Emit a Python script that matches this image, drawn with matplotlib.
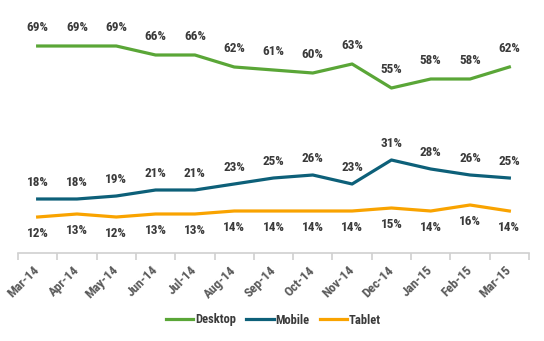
import matplotlib
matplotlib.use("Agg")
import matplotlib.pyplot as plt

# data
months = ["Mar-14", "Apr-14", "May-14", "Jun-14", "Jul-14", "Aug-14", "Sep-14",
          "Oct-14", "Nov-14", "Dec-14", "Jan-15", "Feb-15", "Mar-15"]
desktop = [69, 69, 69, 66, 66, 62, 61, 60, 63, 55, 58, 58, 62]
mobile = [18, 18, 19, 21, 21, 23, 25, 26, 23, 31, 28, 26, 25]
tablet = [12, 13, 12, 13, 13, 14, 14, 14, 14, 15, 14, 16, 14]

plt.rcParams['font.family'] = ['Roboto Condensed', 'DejaVu Sans']
plt.rcParams['font.weight'] = 'bold'

green = "#5aa637"
teal = "#0d6079"
orange = "#f9a300"
txt = "#3a3a3a"

fig = plt.figure(figsize=(5.44, 3.41), dpi=100)
ax = fig.add_axes([18 / 544, 88 / 341, 511 / 544, 240 / 341])

x = list(range(len(months)))
ax.plot(x, desktop, color=green, lw=2.3, label="Desktop")
ax.plot(x, mobile, color=teal, lw=2.3, label="Mobile")
ax.plot(x, tablet, color=orange, lw=2.3, label="Tablet")

for i in x:
    ax.annotate(f"{desktop[i]}%", (i, desktop[i]), xytext=(0, 13), textcoords="offset points",
                ha="center", va="center", fontsize=9.5, color=txt)
    ax.annotate(f"{mobile[i]}%", (i, mobile[i]), xytext=(0, 12), textcoords="offset points",
                ha="center", va="center", fontsize=9.5, color=txt)
    ax.annotate(f"{tablet[i]}%", (i, tablet[i]), xytext=(0, -12), textcoords="offset points",
                ha="center", va="center", fontsize=9.5, color=txt)

ax.set_xlim(-0.5, len(months) - 0.5)
ax.set_ylim(0, 80)
ax.set_yticks([])
for s in ["top", "right", "left"]:
    ax.spines[s].set_visible(False)
ax.spines["bottom"].set_color("#d0d0d0")
ax.spines["bottom"].set_linewidth(1.2)

ax.set_xticks([i - 0.5 for i in range(len(months) + 1)], minor=False)
ax.set_xticklabels([])
ax.tick_params(axis="x", which="major", length=5, color="#d0d0d0", width=1.2)
ax.set_xticks(x, minor=True)
ax.set_xticklabels(months, minor=True, rotation=45, ha="right", va="center",
                   rotation_mode="anchor", fontsize=9.5, color="#595959")
ax.tick_params(axis="x", which="minor", length=0, pad=11)

ax.legend(loc="center", bbox_to_anchor=(0.5, (341 - 320 - 88) / 240), ncol=3, frameon=False,
          fontsize=9, handlelength=2.2, columnspacing=0.8, handletextpad=0.15,
          labelcolor=txt)

fig.savefig("out.png", dpi=100)
